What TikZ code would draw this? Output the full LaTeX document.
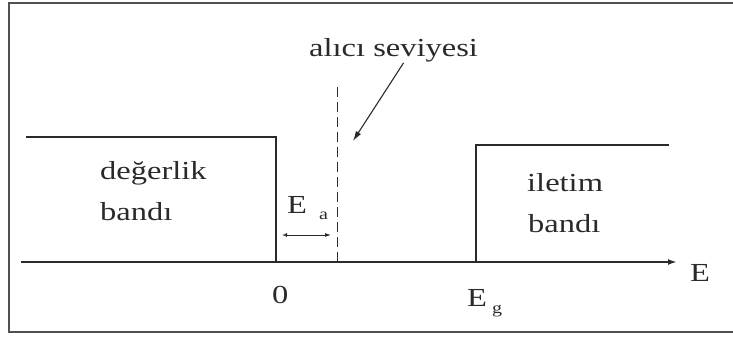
\documentclass[tikz,border=0pt]{standalone}
\usepackage{fontspec}
\setmainfont{Liberation Serif}[FakeStretch=1.25]
\usetikzlibrary{arrows.meta,positioning}
\definecolor{scanink}{HTML}{2A2A2A}
\definecolor{framegray}{HTML}{505050}
\tikzset{
  band/.style={draw=scanink, line width=1.8pt},
  level/.style={draw=scanink, line width=0.9pt, dash pattern=on 10pt off 5pt},
  label/.style={font=\fontsize{26}{30}\selectfont, text=scanink, inner sep=0pt, anchor=base west},
  sublabel/.style={font=\fontsize{16}{18}\selectfont, text=scanink, inner sep=0pt, anchor=base west},
  arrow/.style={-{Latex[length=10pt,width=6pt]}, draw=scanink, line width=1.1pt},
  gaparrow/.style={{Latex[length=5pt,width=4pt,open]}-{Latex[length=6pt,width=4pt]}, draw=scanink, line width=0.9pt}
}

\begin{document}
\begin{tikzpicture}[x=1pt,y=-1pt]
  \useasboundingbox (0,0) rectangle (733,339);
  % frame
  \draw[framegray, line width=2pt] (733,3) -- (9,3) -- (9,332) -- (733,332);

  % corners of the bands
  \coordinate (valtl) at (26,137);
  \coordinate (valtr) at (276,137);
  \coordinate (zero) at (276,262);
  \coordinate (contl) at (476,145);
  \coordinate (contr) at (669,145);
  \coordinate (gapend) at (476,262);
  \coordinate (axisl) at (21,262);
  \coordinate (axisr) at (677,262);
  \coordinate (acclow) at (337,262);
  \coordinate (acctop) at (337,83);
  \coordinate (acctip) at (353,141);
  \coordinate (eal) at (282,235);
  \coordinate (ear) at (331,235);

  % bands, axis and acceptor level
  \draw[band] (valtl) -- (valtr) -- (zero);
  \draw[band] (gapend) -- (contl) -- (contr);
  \draw[band, -{Latex[length=9pt,width=6pt]}] (axisl) -- (axisr);
  \draw[level] (acclow) -- (acctop);

  % labels
  \node[label] (valtop) at (100,180) {değerlik};
  \node[label] (valbot) at (100,220) {bandı};
  \node[label] (contop) at (527,192) {iletim};
  \node[label] (conbot) at (528,233) {bandı};
  \node[label] (acclabel) at (309,57) {alıcı seviyesi};
  \node[label] (ea) at (287,213) {E};
  \node[sublabel] (easub) at (319,219) {a};
  \node[label] (zerolabel) at (272,303) {0};
  \node[label] (eg) at (467,306) {E};
  \node[sublabel] (egsub) at (492,313) {g};
  \node[label] (elabel) at (690,281) {E};

  \draw[arrow] ([xshift=10pt]acclabel.south) -- (acctip);
  \draw[gaparrow] (eal) -- (ear);
\end{tikzpicture}
\end{document}
